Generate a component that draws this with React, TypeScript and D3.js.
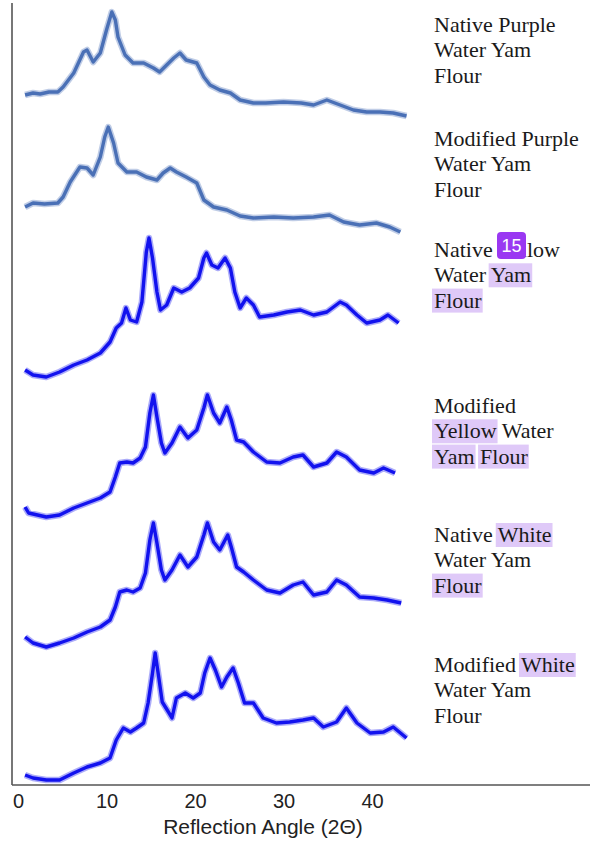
import { useEffect, useRef } from 'react';
import * as d3 from 'd3';

// [angle 2θ, relative intensity a.u.]
const nativePurple: [number, number][] = [
  [0.8, 25], [1.7, 27], [2.5, 26], [3.5, 28], [4.5, 28], [5.1, 33], [6.3, 47], [7.4, 68], [7.8, 70],
  [8.5, 58], [9.3, 67], [10, 90], [10.6, 108], [11, 100], [11.3, 83], [12.1, 65], [13, 57], [14.2, 57],
  [15.3, 52], [16, 48], [16.8, 55], [17.6, 62], [18.3, 67], [19, 60], [20.2, 57], [21, 43], [21.7, 35],
  [22.8, 30], [24, 27], [25.1, 20], [26.6, 17], [28, 17], [30, 18], [32, 17], [33.4, 15], [34.9, 20],
  [36.4, 15], [37.9, 10], [39.4, 8], [40.9, 8], [42.4, 7], [43.9, 4],
];
const modifiedPurple: [number, number][] = [
  [0.8, 28], [1.7, 32], [3, 31], [4.5, 32], [5.1, 38], [5.9, 53], [7, 68], [7.8, 67], [8.5, 60],
  [9.3, 78], [9.8, 98], [10.2, 108], [10.8, 92], [11.3, 72], [12.3, 63], [13.4, 63], [14.5, 58],
  [15.7, 55], [16.4, 62], [17.2, 67], [17.9, 63], [19, 58], [20.2, 52], [21, 35], [22.1, 28], [23.6, 25],
  [25.1, 19], [26.6, 17], [28.9, 18], [31.1, 17], [33.4, 18], [35.2, 20], [36.8, 13], [38.6, 10],
  [40.5, 12], [42, 8], [43.2, 3],
];
const nativeYellow: [number, number][] = [
  [0.8, 10], [1.7, 5], [3.2, 3], [4.7, 8], [6.3, 15], [7.8, 20], [9.3, 27], [10.4, 38], [11.1, 52],
  [11.7, 57], [12.2, 72], [12.7, 60], [13.4, 58], [14, 78], [14.5, 128], [14.8, 142], [15.2, 122],
  [15.7, 88], [16.1, 70], [16.8, 75], [17.6, 92], [18.5, 88], [19.4, 92], [20.4, 102], [21, 122],
  [21.3, 127], [21.9, 115], [22.6, 112], [23.4, 122], [24, 112], [24.5, 88], [25.1, 72], [25.8, 82],
  [26.6, 75], [27.3, 63], [28.9, 65], [30.4, 68], [31.9, 70], [33.4, 65], [34.9, 68], [36.4, 78],
  [37.1, 75], [38.3, 65], [39.4, 57], [40.9, 60], [41.8, 65], [43, 57],
];
const modifiedYellow: [number, number][] = [
  [0.8, 13], [1.2, 7], [3.2, 3], [4.7, 5], [6.3, 12], [7.8, 17], [9.3, 22], [10.4, 28], [11, 43],
  [11.5, 57], [12.3, 58], [13, 57], [13.8, 62], [14.4, 73], [14.9, 107], [15.3, 125], [15.7, 103],
  [16.2, 77], [16.6, 67], [17.4, 77], [18.3, 93], [19.2, 82], [20.2, 90], [21, 112], [21.4, 125],
  [22.1, 107], [22.8, 97], [23.6, 113], [24.1, 100], [24.7, 80], [25.5, 78], [26.6, 68], [28.1, 58],
  [29.6, 57], [31.1, 63], [32.2, 65], [33.4, 53], [34.9, 57], [36, 68], [37.1, 63], [38.6, 50],
  [40.2, 47], [41.3, 52], [42.6, 47],
];
const nativeWhite: [number, number][] = [
  [0.8, 13], [1.7, 7], [3.2, 3], [4.7, 7], [6.3, 12], [7.8, 18], [9.3, 23], [10.4, 30], [11, 43],
  [11.5, 58], [12.3, 60], [13, 58], [13.8, 62], [14.4, 77], [14.9, 110], [15.3, 127], [15.7, 107],
  [16.2, 80], [16.6, 70], [17.4, 80], [18.3, 95], [19.2, 83], [20.2, 93], [21, 115], [21.4, 127],
  [22.1, 108], [22.8, 100], [23.7, 115], [24.1, 103], [24.7, 83], [25.5, 78], [26.6, 70], [28.1, 60],
  [29.6, 57], [31.1, 65], [32.2, 68], [33.4, 55], [34.9, 58], [36, 70], [37.1, 65], [38.6, 53],
  [40.2, 52], [41.7, 50], [43.3, 47],
];
const modifiedWhite: [number, number][] = [
  [0.8, 9], [1.7, 6], [3.2, 4], [4.7, 4], [6.3, 11], [7.8, 17], [9.3, 21], [10.4, 26], [11.1, 44],
  [11.9, 56], [12.7, 52], [13.4, 56], [14.2, 61], [14.7, 81], [15.2, 111], [15.5, 131], [15.9, 107],
  [16.3, 82], [17, 72], [17.4, 66], [17.9, 86], [18.9, 91], [19.8, 86], [20.6, 91], [21.1, 111],
  [21.7, 126], [22.3, 114], [23, 97], [23.6, 107], [24.3, 116], [24.9, 101], [25.6, 81], [26.6, 81],
  [27.7, 66], [29.2, 61], [30.7, 62], [32.2, 64], [33.4, 66], [34.5, 57], [36, 62], [37.1, 76],
  [38.3, 61], [39.8, 51], [41.3, 52], [42.4, 57], [43.9, 46],
];

const seriesData = [nativePurple, modifiedPurple, nativeYellow, modifiedYellow, nativeWhite, modifiedWhite];
const seriesOffsets = [664, 549, 404, 264, 134, 0];
const seriesColors = ['#4a70b6', '#4a70b6', '#1212ee', '#1212ee', '#1212ee', '#1212ee'];

// each label: lines of words, highlighted words marked with *
const seriesLabels = [
  ['Native Purple', 'Water Yam', 'Flour'],
  ['Modified Purple', 'Water Yam', 'Flour'],
  ['Native Yellow', 'Water *Yam', '*Flour'],
  ['Modified', '*Yellow Water', '*Yam *Flour'],
  ['Native *White', 'Water Yam', '*Flour'],
  ['Modified *White', 'Water Yam', 'Flour'],
];
const labelBaselines = [32, 146, 257, 413, 542, 672];
const xTicks = [0, 10, 20, 30, 40];

export default function App() {
  const svgRef = useRef<SVGSVGElement>(null);

  useEffect(() => {
    const W = 592;
    const H = 843;
    const axisY = 785;
    const svg = d3.select(svgRef.current).attr('width', W).attr('height', H);
    svg.selectAll('*').remove();

    const x = d3.scaleLinear().domain([0, 40]).range([18, 372]);
    const y = d3.scaleLinear().domain([0, 784]).range([784, 0]);

    // axis frame
    svg.append('line').attr('x1', 12).attr('x2', 12).attr('y1', 3).attr('y2', axisY)
      .attr('stroke', '#555').attr('stroke-width', 1.6);
    svg.append('line').attr('x1', 12).attr('x2', 590).attr('y1', axisY).attr('y2', axisY)
      .attr('stroke', '#555').attr('stroke-width', 1.6);

    const xAxis = svg.append('g')
      .attr('transform', `translate(0,${axisY})`)
      .call(d3.axisBottom(x).tickValues(xTicks).tickSize(0).tickPadding(9));
    xAxis.select('.domain').remove();
    xAxis.selectAll('text')
      .style('font-family', '"Liberation Sans", Arial, sans-serif')
      .style('font-size', '20px')
      .style('fill', '#222');

    svg.append('text')
      .attr('x', 263).attr('y', 834)
      .attr('text-anchor', 'middle')
      .style('font-family', '"Liberation Sans", Arial, sans-serif')
      .style('font-size', '21px')
      .style('fill', '#222')
      .text('Reflection Angle (2\u0398)');

    // traces
    seriesData.forEach((data, i) => {
      const line = d3.line<[number, number]>()
        .x((d) => x(d[0]))
        .y((d) => y(d[1] + seriesOffsets[i]));
      svg.append('path').datum(data).attr('d', line)
        .attr('fill', 'none').attr('stroke', seriesColors[i])
        .attr('stroke-width', 6.5).attr('stroke-opacity', 0.35).attr('stroke-linejoin', 'round');
      svg.append('path').datum(data).attr('d', line)
        .attr('fill', 'none').attr('stroke', seriesColors[i])
        .attr('stroke-width', 3.4).attr('stroke-linejoin', 'round');
    });

    // labels with highlighted words
    const hlLayer = svg.append('g');
    const textLayer = svg.append('g');
    seriesLabels.forEach((lines, i) => {
      lines.forEach((ln, j) => {
        const base = labelBaselines[i] + j * 25.3;
        const t = textLayer.append('text')
          .attr('x', 434).attr('y', base)
          .style('font-family', '"Liberation Serif", "Times New Roman", serif')
          .style('font-size', '22px')
          .style('fill', '#1a1a1a');
        const words = ln.split(' ');
        words.forEach((w, k) => {
          const hl = w.startsWith('*');
          const ts = t.append('tspan').text((k > 0 ? ' ' : '') + w.replace('*', ''));
          if (hl) ts.attr('data-hl', '1');
        });
        t.selectAll<SVGTSpanElement, unknown>('tspan[data-hl]').each(function () {
          const n = this.getNumberOfChars();
          const txt = this.textContent || '';
          const startIdx = txt.startsWith(' ') ? 1 : 0;
          const s = this.getStartPositionOfChar(startIdx).x;
          const e = this.getEndPositionOfChar(n - 1).x;
          hlLayer.append('rect')
            .attr('x', s - 2).attr('y', base - 19)
            .attr('width', e - s + 3).attr('height', 24)
            .attr('fill', '#dfc9f8');
        });
      });
    });

    // page badge
    svg.append('rect').attr('x', 497).attr('y', 232).attr('width', 29).attr('height', 27)
      .attr('rx', 4).attr('fill', '#9a38f2');
    svg.append('text').attr('x', 511.5).attr('y', 252).attr('text-anchor', 'middle')
      .style('font-family', '"Liberation Sans", Arial, sans-serif')
      .style('font-size', '18px').style('fill', '#fff')
      .text('15');
  }, []);

  return <svg ref={svgRef} style={{ position: 'absolute', left: 0, top: 0, background: '#fff' }}></svg>;
}
